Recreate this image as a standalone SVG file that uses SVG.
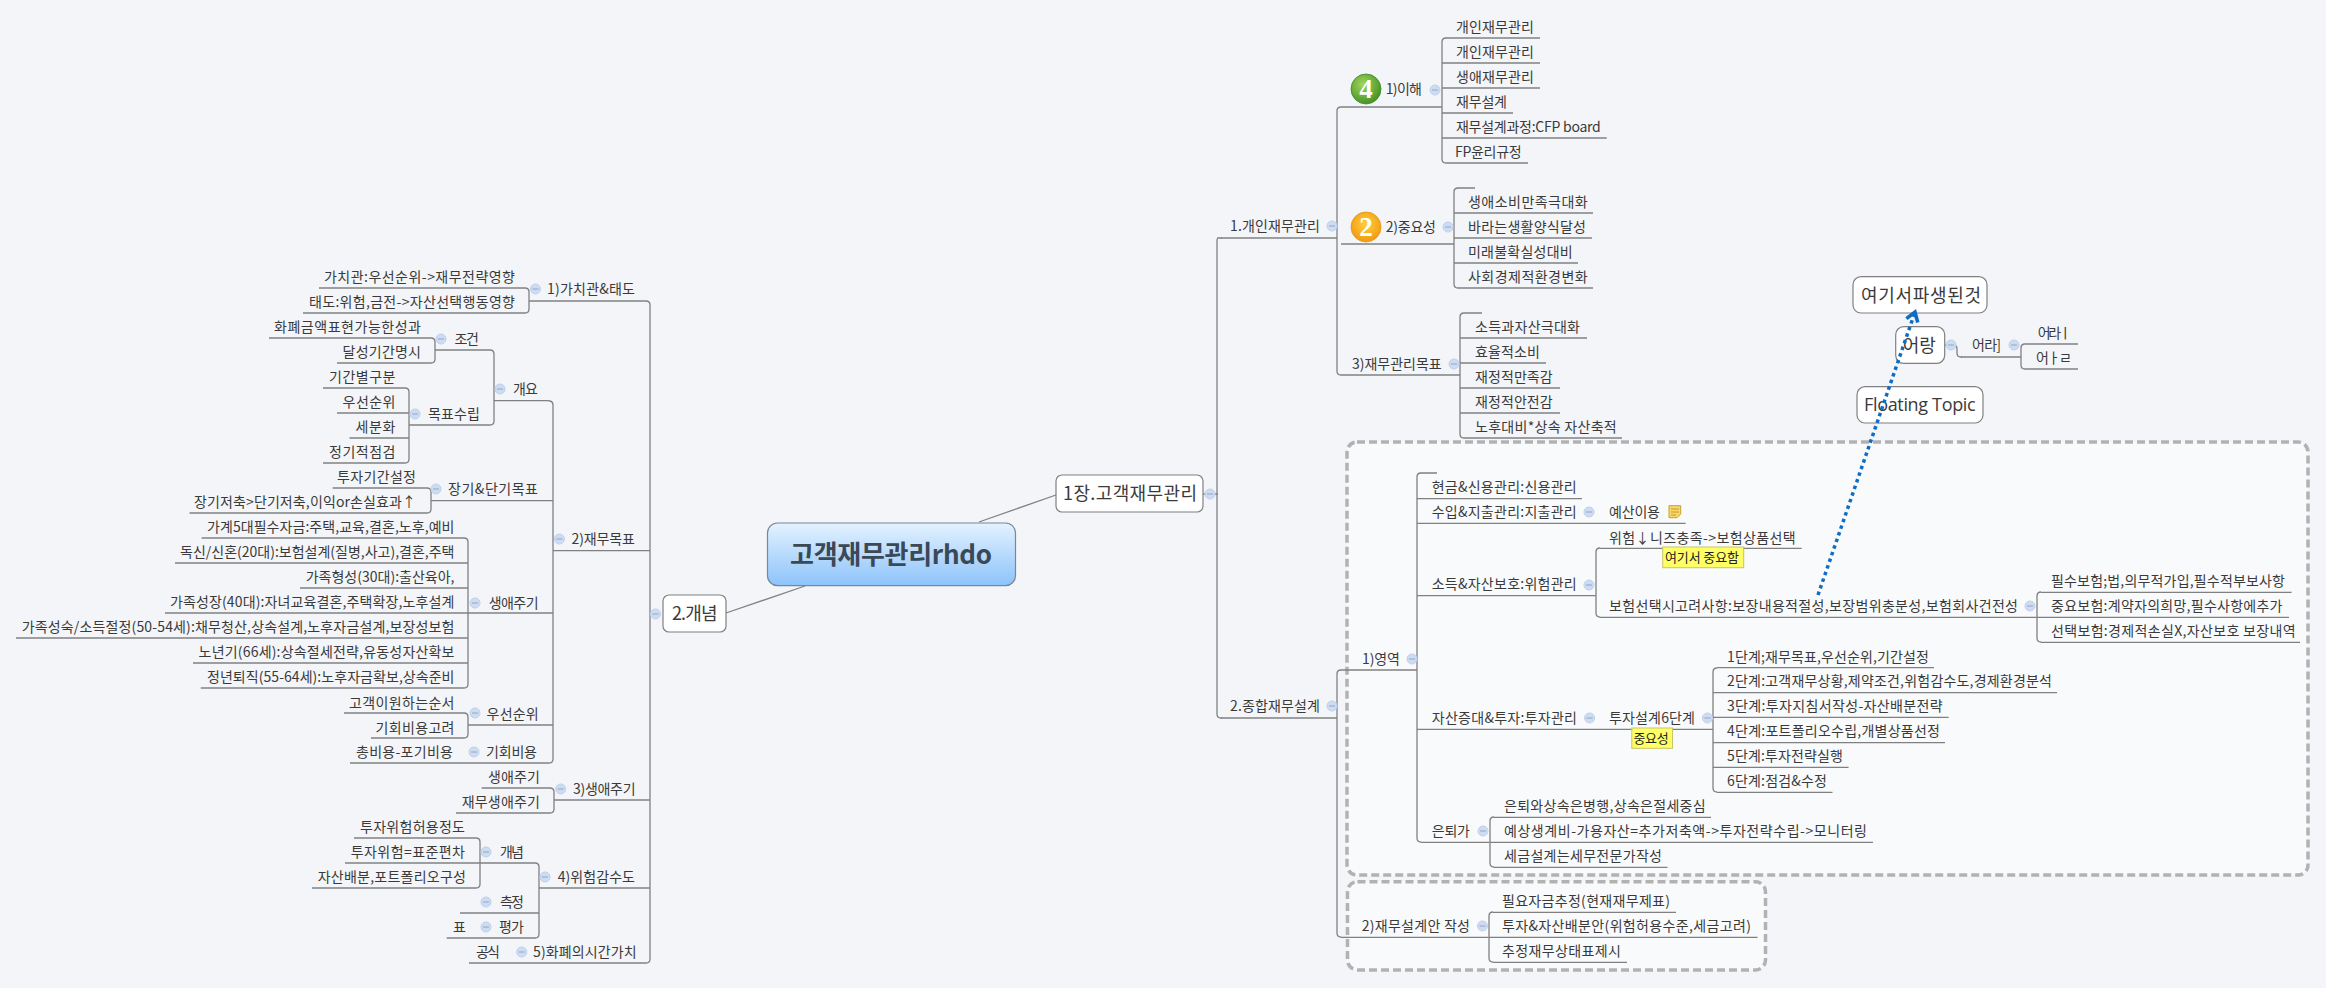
<svg xmlns="http://www.w3.org/2000/svg" width="2326" height="988" viewBox="0 0 2326 988">
<style>
text{font-family:"Noto Sans CJK KR","Noto Sans",sans-serif;font-size:14px;fill:#3a3a3a}
.u,.b{fill:none;stroke:#808080;stroke-width:1.3}
.box{fill:#fff;stroke:#808080;stroke-width:1.2}
.t{font-size:18px}
.d{fill:#fff;fill-opacity:.5;stroke:#b2b2b2;stroke-width:3.5;stroke-dasharray:8 4}
.y{fill:#ffff66;stroke:#c9c46a}
.l{font-size:13px;fill:#222}
.ic{font-family:"Liberation Serif",serif;font-size:27px;font-weight:bold;fill:#fff;text-anchor:middle}
</style>
<defs>
<linearGradient id="cg" x1="0" y1="0" x2="0" y2="1"><stop offset="0" stop-color="#e4f2ff"/><stop offset="1" stop-color="#8cc3fa"/></linearGradient>
<radialGradient id="gi" cx=".4" cy=".35" r=".7"><stop offset="0" stop-color="#a4d65a"/><stop offset="1" stop-color="#3f8f25"/></radialGradient>
<radialGradient id="oi" cx=".5" cy=".4" r=".65"><stop offset="0" stop-color="#ffd23c"/><stop offset="1" stop-color="#f09410"/></radialGradient>
<g id="ex"><circle r="5" fill="#cddcf3" stroke="#bfd0ea"/><path d="M-3 0H3" stroke="#8fa6c6"/></g>
<marker id="ah" markerUnits="userSpaceOnUse" markerWidth="18" markerHeight="18" refX="12" refY="9" orient="auto"><path d="M3 3L12 9L3 15" fill="none" stroke="#0f6cc4" stroke-width="3.6"/></marker>
</defs>
<rect width="2326" height="988" fill="#f3f5f9"/>
<rect class="d" x="1347" y="442" width="961" height="433" rx="10"/>
<rect class="d" x="1347.5" y="881.7" width="418" height="88.3" rx="10"/>
<g id="connectors">
<path class="b" d="M979 522L1056 495M726 613L805 586M1203 494H1218M650 614H656M1945 345H1953Q1957 345 1957 349V353Q1957 357 1961 357H1962"/>
<path class="b" d="M1222 238H1218Q1217 238 1217 242V714Q1217 718 1221 718H1222"/>
<path class="b" d="M1341 107Q1337 107 1337 111V371Q1337 375 1341 375"/>
<path class="b" d="M1446 38Q1442 38 1442 42V159Q1442 163 1446 163"/>
<path class="b" d="M1475 188H1458Q1454 188 1454 192V284Q1454 288 1458 288"/>
<path class="b" d="M1482 313H1464Q1460 313 1460 317V434Q1460 438 1464 438"/>
<path class="b" d="M1341 670Q1337 670 1337 674V933Q1337 937 1341 937"/>
<path class="b" d="M1437 473H1421Q1417 473 1417 477V838Q1417 842 1421 842"/>
<path class="b" d="M1600 548H1600Q1596 548 1596 552V613Q1596 617 1600 617"/>
<path class="b" d="M2041 592Q2037 592 2037 596V638Q2037 642 2041 642"/>
<path class="b" d="M1717 668Q1713 668 1713 672V788Q1713 792 1717 792"/>
<path class="b" d="M1494 817Q1490 817 1490 821V863Q1490 867 1494 867"/>
<path class="b" d="M1493 912Q1489 912 1489 916V958Q1489 962 1493 962"/>
<path class="b" d="M2025 344Q2021 344 2021 348V365Q2021 369 2025 369"/>
<path class="b" d="M646 301Q650 301 650 305V959Q650 963 646 963"/>
<path class="b" d="M525 288Q529 288 529 292V309Q529 313 525 313"/>
<path class="b" d="M549 401Q553 401 553 405V759Q553 763 549 763"/>
<path class="b" d="M490 350Q494 350 494 354V421Q494 425 490 425"/>
<path class="b" d="M431 338Q435 338 435 342V359Q435 363 431 363"/>
<path class="b" d="M405 388Q409 388 409 392V459Q409 463 405 463"/>
<path class="b" d="M427 488Q431 488 431 492V509Q431 513 427 513"/>
<path class="b" d="M464 538Q468 538 468 542V684Q468 688 464 688"/>
<path class="b" d="M464 713Q468 713 468 717V734Q468 738 464 738"/>
<path class="b" d="M550 788Q554 788 554 792V809Q554 813 550 813"/>
<path class="b" d="M535 863Q539 863 539 867V934Q539 938 535 938"/>
<path class="b" d="M476 838Q480 838 480 842V884Q480 888 476 888"/>
</g>
<g id="center"><rect x="767.5" y="523" width="248" height="62.7" rx="10" fill="url(#cg)" stroke="#76889a" stroke-width="1.2"/><text x="790" y="564" textLength="202" style="font-size:26px;font-weight:bold;fill:#3b4856">고객재무관리rhdo</text></g>
<g id="r0"><rect class="box" x="1056" y="475" width="147" height="37" rx="6"/><text class="t" x="1063" y="500" textLength="134">1장.고객재무관리</text><use href="#ex" x="1210" y="494"/></g>
<g id="l0"><rect class="box" x="663" y="595" width="63" height="37" rx="6"/><text class="t" x="672" y="620" textLength="45.5">2.개념</text><use href="#ex" x="655.5" y="614"/></g>
<g id="float1"><rect class="box" x="1853" y="276.7" width="134" height="36.3" rx="8"/><text class="t" x="1861" y="302" textLength="120">여기서파생된것</text></g>
<g id="float2"><rect class="box" x="1895.7" y="326.7" width="49" height="36.6" rx="8"/><text class="t" x="1902.7" y="352" textLength="33">어랑</text><use href="#ex" x="1951" y="345"/></g>
<g id="float3"><rect class="box" x="1857" y="386.7" width="126" height="36.3" rx="8"/><text class="t" x="1864" y="411" textLength="111.7" style="font-family:'Open Sans','Noto Sans',sans-serif">Floating Topic</text></g>
<g id="f2a"><path class="u" d="M1961 357H2021"/><text x="1972" y="350" textLength="29">어라]</text><use href="#ex" x="2014" y="345"/></g>
<g id="f2a1"><path class="u" d="M2025 344H2078"/><text x="2037.7" y="338" textLength="34">어라ㅣ</text></g>
<g id="f2a2"><path class="u" d="M2025 369H2078"/><text x="2036" y="363" textLength="36">어ㅏㄹ</text></g>

<g id="r1"><path class="u" d="M1221 238H1337"/><text x="1230" y="231" textLength="90">1.개인재무관리</text><use href="#ex" x="1332" y="226"/></g>
<g id="r11"><path class="u" d="M1341 107H1442"/><circle cx="1366" cy="89" r="15" fill="url(#gi)" stroke="#3a8a22" stroke-width=".8"/><text class="ic" x="1366" y="98">4</text><text x="1385.7" y="94" textLength="36.3">1)이해</text><use href="#ex" x="1435" y="90"/></g>
<g id="r111"><path class="u" d="M1446 38H1540"/><text x="1456" y="32" textLength="78">개인재무관리</text></g>
<g id="r112"><path class="u" d="M1442 63H1540"/><text x="1456" y="57" textLength="78">개인재무관리</text></g>
<g id="r113"><path class="u" d="M1442 88H1540"/><text x="1456" y="82" textLength="78">생애재무관리</text></g>
<g id="r114"><path class="u" d="M1442 113H1513"/><text x="1456" y="107" textLength="51">재무설계</text></g>
<g id="r115"><path class="u" d="M1442 138H1606.7"/><text x="1456" y="132" textLength="144.7">재무설계과정:CFP board</text></g>
<g id="r116"><path class="u" d="M1446 163H1528"/><text x="1455" y="157" textLength="66.7">FP윤리규정</text></g>
<g id="r12"><path class="u" d="M1341 244H1454"/><circle cx="1366" cy="227" r="15" fill="url(#oi)" stroke="#e8920f" stroke-width=".8"/><text class="ic" x="1366" y="236">2</text><text x="1385.7" y="232" textLength="50.3">2)중요성</text><use href="#ex" x="1448" y="227"/></g>
<g id="r121"><path class="u" d="M1454 213H1593"/><text x="1468" y="207" textLength="119.7">생애소비만족극대화</text></g>
<g id="r122"><path class="u" d="M1454 238H1592"/><text x="1468" y="232" textLength="118">바라는생활양식달성</text></g>
<g id="r123"><path class="u" d="M1454 263H1578"/><text x="1468" y="257" textLength="104.7">미래불확실성대비</text></g>
<g id="r124"><path class="u" d="M1458 288H1593"/><text x="1468" y="282" textLength="119.7">사회경제적환경변화</text></g>
<g id="r13"><path class="u" d="M1341 375H1460"/><text x="1352" y="369" textLength="89.7">3)재무관리목표</text><use href="#ex" x="1454" y="364"/></g>
<g id="r131"><path class="u" d="M1460 338H1587"/><text x="1475" y="332" textLength="105">소득과자산극대화</text></g>
<g id="r132"><path class="u" d="M1460 363H1546"/><text x="1475" y="357" textLength="65">효율적소비</text></g>
<g id="r133"><path class="u" d="M1460 388H1560"/><text x="1475" y="382" textLength="77.7">재정적만족감</text></g>
<g id="r134"><path class="u" d="M1460 413H1560"/><text x="1475" y="407" textLength="77.7">재정적안전감</text></g>
<g id="r135"><path class="u" d="M1464 438H1622"/><text x="1475" y="432" textLength="141.7">노후대비*상속 자산축적</text></g>

<g id="r2"><path class="u" d="M1221 718H1337"/><text x="1230" y="711" textLength="90">2.종합재무설계</text><use href="#ex" x="1332" y="706"/></g>
<g id="r21"><path class="u" d="M1341 670H1417"/><text x="1362" y="664" textLength="38">1)영역</text><use href="#ex" x="1412" y="659"/></g>
<g id="r211"><path class="u" d="M1417 498.7H1582"/><text x="1431.7" y="492" textLength="145">현금&amp;신용관리:신용관리</text></g>
<g id="r212"><path class="u" d="M1417 523.3H1685.7"/><text x="1431.7" y="517" textLength="145">수입&amp;지출관리:지출관리</text><use href="#ex" x="1589" y="512"/><text x="1609" y="517" textLength="51">예산이용</text><path d="M1669 505.7H1680.7V514L1677 517.7H1669Z" fill="#f7d86a" stroke="#c9a227"/><path d="M1671 509H1679M1671 512H1679M1671 515H1676" stroke="#b98a1c" stroke-width=".8"/></g>
<g id="r213"><path class="u" d="M1417 595.7H1595.7"/><text x="1431.7" y="589" textLength="145">소득&amp;자산보호:위험관리</text><use href="#ex" x="1589" y="585"/></g>
<g id="r2131"><path class="u" d="M1600 548.3H1801.7"/><text x="1609" y="542.7" textLength="186.7">위험↓니즈충족-&gt;보험상품선택</text></g>
<g id="lab1"><rect class="y" x="1662.7" y="547" width="81" height="20.7"/><text class="l" x="1665" y="562" textLength="74">여기서 중요함</text></g>
<g id="r2132"><path class="u" d="M1600 617.3H2036.6"/><text x="1609" y="610.7" textLength="409">보험선택시고려사항:보장내용적절성,보장범위충분성,보험회사건전성</text><use href="#ex" x="2030" y="606"/></g>
<g id="r21321"><path class="u" d="M2041 592.3H2291.6"/><text x="2051" y="586" textLength="234">필수보험;법,의무적가입,필수적부보사항</text></g>
<g id="r21322"><path class="u" d="M2037 617.3H2289"/><text x="2051" y="611" textLength="231.5">중요보험:계약자의희망,필수사항에추가</text></g>
<g id="r21323"><path class="u" d="M2041 642.3H2300"/><text x="2051" y="636" textLength="244.6">선택보험:경제적손실X,자산보호 보장내역</text></g>
<g id="r214"><path class="u" d="M1417 729.3H1713"/><text x="1431.8" y="723" textLength="145.2">자산증대&amp;투자:투자관리</text><use href="#ex" x="1589.6" y="718"/><text x="1609" y="723" textLength="86">투자설계6단계</text><use href="#ex" x="1707.5" y="718"/></g>
<g id="lab2"><rect class="y" x="1631.8" y="728" width="40.7" height="20.3"/><text class="l" x="1633.6" y="743" textLength="35">중요성</text></g>
<g id="s1"><path class="u" d="M1717 667.7H1934"/><text x="1727" y="661.7" textLength="202">1단계;재무목표,우선순위,기간설정</text></g>
<g id="s2"><path class="u" d="M1713 692.7H2057"/><text x="1727" y="686" textLength="325">2단계:고객재무상황,제약조건,위험감수도,경제환경분석</text></g>
<g id="s3"><path class="u" d="M1713 717.3H1948.7"/><text x="1727" y="711" textLength="215.6">3단계:투자지침서작성-자산배분전략</text></g>
<g id="s4"><path class="u" d="M1713 742.7H1945"/><text x="1727" y="736" textLength="213">4단계:포트폴리오수립,개별상품선정</text></g>
<g id="s5"><path class="u" d="M1713 767.3H1848.6"/><text x="1727" y="760.7" textLength="116">5단계:투자전략실행</text></g>
<g id="s6"><path class="u" d="M1717 792.3H1832.5"/><text x="1727" y="786" textLength="100">6단계:점검&amp;수정</text></g>
<g id="r215"><path class="u" d="M1421 842.3H1489.6"/><text x="1431.8" y="835.7" textLength="38.2">은퇴가</text><use href="#ex" x="1483" y="831"/></g>
<g id="r2151"><path class="u" d="M1494 817.3H1711"/><text x="1504" y="811" textLength="201.7">은퇴와상속은병행,상속은절세중심</text></g>
<g id="r2152"><path class="u" d="M1490 842.3H1873"/><text x="1504" y="836" textLength="363">예상생계비-가용자산=추가저축액-&gt;투자전략수립-&gt;모니터링</text></g>
<g id="r2153"><path class="u" d="M1494 867.3H1667.5"/><text x="1504" y="861" textLength="158">세금설계는세무전문가작성</text></g>
<g id="r22"><path class="u" d="M1341 937.3H1488.6"/><text x="1361.8" y="931" textLength="108.2">2)재무설계안 작성</text><use href="#ex" x="1482.5" y="926"/></g>
<g id="r221"><path class="u" d="M1493 912.3H1676"/><text x="1502" y="905.7" textLength="168">필요자금추정(현재재무제표)</text></g>
<g id="r222"><path class="u" d="M1489 937.3H1757.5"/><text x="1502" y="931" textLength="249">투자&amp;자산배분안(위험허용수준,세금고려)</text></g>
<g id="r223"><path class="u" d="M1493 962.3H1627"/><text x="1502" y="956" textLength="119">추정재무상태표제시</text></g>

<g id="l1"><path class="u" d="M529 301H646"/><text x="547" y="294" textLength="88">1)가치관&amp;태도</text><use href="#ex" x="535.5" y="289"/></g>
<g id="l11"><path class="u" d="M319 288H525"/><text x="324" y="282" textLength="191">가치관:우선순위-&gt;재무전략영향</text></g>
<g id="l12"><path class="u" d="M303 313H525"/><text x="309" y="307" textLength="206">태도:위험,금전-&gt;자산선택행동영향</text></g>
<g id="l2"><path class="u" d="M553 550.7H650"/><text x="571.5" y="544" textLength="63.5">2)재무목표</text><use href="#ex" x="559.4" y="539"/></g>
<g id="l21"><path class="u" d="M494 400.7H549"/><text x="513" y="394" textLength="25">개요</text><use href="#ex" x="500" y="389"/></g>
<g id="l211"><path class="u" d="M435 350H490"/><text x="454.5" y="344" textLength="24.5">조건</text><use href="#ex" x="441" y="339"/></g>
<g id="l2111"><path class="u" d="M269 338H431"/><text x="274" y="332" textLength="147">화폐금액표현가능한성과</text></g>
<g id="l2112"><path class="u" d="M337 363H431"/><text x="342.6" y="357" textLength="78.4">달성기간명시</text></g>
<g id="l212"><path class="u" d="M409 425H490"/><text x="428" y="419" textLength="52">목표수립</text><use href="#ex" x="415" y="414"/></g>
<g id="l2121"><path class="u" d="M323 388H405"/><text x="329" y="382" textLength="66.5">기간별구분</text></g>
<g id="l2122"><path class="u" d="M337 413H409"/><text x="342.6" y="407" textLength="52.9">우선순위</text></g>
<g id="l2123"><path class="u" d="M349.5 438H409"/><text x="355.6" y="432" textLength="39.9">세분화</text></g>
<g id="l2124"><path class="u" d="M323 463H405"/><text x="329" y="457" textLength="66.5">정기적점검</text></g>
<g id="l22"><path class="u" d="M431 500.7H553"/><text x="448" y="494" textLength="90">장기&amp;단기목표</text><use href="#ex" x="436" y="489"/></g>
<g id="l221"><path class="u" d="M332.6 488H427"/><text x="337" y="482" textLength="79">투자기간설정</text></g>
<g id="l222"><path class="u" d="M189.5 513H427"/><text x="194" y="507" textLength="222">장기저축&gt;단기저축,이익or손실효과↑</text></g>
<g id="l23"><path class="u" d="M468 613H553"/><text x="488.7" y="607.7" textLength="49.9">생애주기</text><use href="#ex" x="475" y="603"/></g>
<g id="l231"><path class="u" d="M201.6 538H464"/><text x="207" y="532" textLength="247.5">가계5대필수자금:주택,교육,결혼,노후,예비</text></g>
<g id="l232"><path class="u" d="M175 563H468"/><text x="180" y="557" textLength="274.5">독신/신혼(20대):보험설계(질병,사고),결혼,주택</text></g>
<g id="l233"><path class="u" d="M300 588H468"/><text x="305.7" y="582" textLength="148.8">가족형성(30대):출산육아,</text></g>
<g id="l234"><path class="u" d="M165 613H468"/><text x="170" y="607" textLength="284.5">가족성장(40대):자녀교육결혼,주택확장,노후설계</text></g>
<g id="l235"><path class="u" d="M16 638H468"/><text x="21.7" y="632" textLength="432.8">가족성숙/소득절정(50-54세):채무청산,상속설계,노후자금설계,보장성보험</text></g>
<g id="l236"><path class="u" d="M193 663H468"/><text x="198.6" y="657" textLength="255.9">노년기(66세):상속절세전략,유동성자산확보</text></g>
<g id="l237"><path class="u" d="M200.8 688H464"/><text x="207" y="682" textLength="247.5">정년퇴직(55-64세):노후자금확보,상속준비</text></g>
<g id="l24"><path class="u" d="M468 725H553"/><text x="486.6" y="718.5" textLength="52">우선순위</text><use href="#ex" x="475" y="713"/></g>
<g id="l241"><path class="u" d="M344 713H464"/><text x="349" y="707.7" textLength="105.5">고객이원하는순서</text></g>
<g id="l242"><path class="u" d="M371 738H464"/><text x="375.5" y="733" textLength="79">기회비용고려</text></g>
<g id="l25"><path class="u" d="M350 763H549"/><text x="356" y="757" textLength="97">총비용-포기비용</text><text x="486" y="757" textLength="51">기회비용</text><use href="#ex" x="474" y="752"/></g>
<g id="l3"><path class="u" d="M554 800H650"/><text x="573" y="794" textLength="62.6">3)생애주기</text><use href="#ex" x="560.7" y="789"/></g>
<g id="l31"><path class="u" d="M481.7 788H550"/><text x="488" y="781.7" textLength="52">생애주기</text></g>
<g id="l32"><path class="u" d="M456 813H550"/><text x="461.7" y="807" textLength="78.3">재무생애주기</text></g>
<g id="l4"><path class="u" d="M539 888H650"/><text x="557.7" y="881.7" textLength="77.3">4)위험감수도</text><use href="#ex" x="545" y="877"/></g>
<g id="l41"><path class="u" d="M480 863H535"/><text x="500" y="857" textLength="24">개념</text><use href="#ex" x="486" y="852"/></g>
<g id="l411"><path class="u" d="M354 838H476"/><text x="360" y="831.7" textLength="105">투자위험허용정도</text></g>
<g id="l412"><path class="u" d="M345 863H480"/><text x="350.7" y="857" textLength="114.3">투자위험=표준편차</text></g>
<g id="l413"><path class="u" d="M312 888H476"/><text x="317.7" y="882" textLength="148.3">자산배분,포트폴리오구성</text></g>
<g id="l42"><path class="u" d="M460 913H539"/><text x="500" y="907" textLength="24">측정</text><use href="#ex" x="486" y="902"/></g>
<g id="l43"><path class="u" d="M446.7 938H535"/><text x="453" y="932" textLength="12">표</text><text x="499" y="932" textLength="25">평가</text><use href="#ex" x="486" y="927"/></g>
<g id="l5"><path class="u" d="M469 963H646"/><text x="476" y="957" textLength="24">공식</text><text x="533" y="957" textLength="103.7">5)화폐의시간가치</text><use href="#ex" x="521.7" y="952"/></g>

<path id="rel" d="M1818 595L1915 312" fill="none" stroke="#0f6cc4" stroke-width="3.5" stroke-dasharray="3.5 3.5" marker-end="url(#ah)"/>
</svg>
